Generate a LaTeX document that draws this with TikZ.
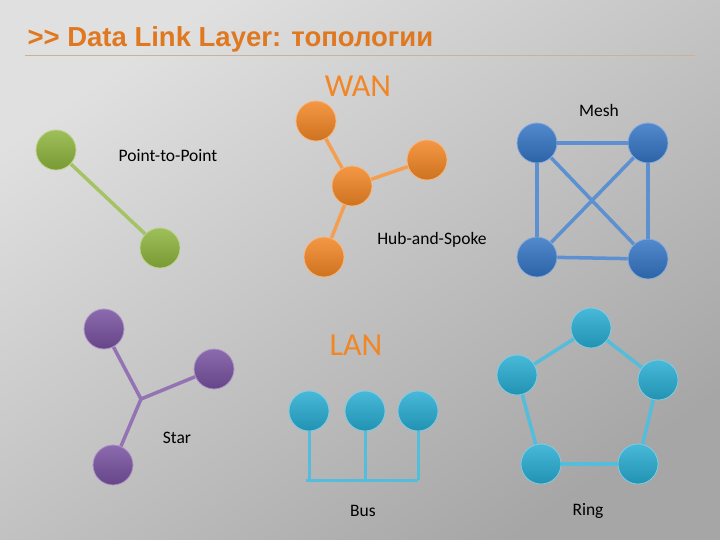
\documentclass[tikz,border=0pt]{standalone}
\usepackage{fontspec}
\setmainfont{Carlito}
\newfontfamily\titlefont{Liberation Sans}
\usepackage{tikz}
\definecolor{titlecolor}{RGB}{224,120,32}
\definecolor{bglight}{RGB}{224,224,224}
\definecolor{bgdark}{RGB}{166,166,166}
\definecolor{greencolor}{RGB}{141,180,60}
\definecolor{orangecolor}{RGB}{242,134,36}
\definecolor{bluecolor}{RGB}{52,116,196}
\definecolor{purplecolor}{RGB}{120,80,160}
\definecolor{cyancolor}{RGB}{40,172,210}

\tikzset{
    host/.style={circle, minimum size=40pt, inner sep=0pt,
        draw=#1!60!white, line width=0.8pt,
        top color=#1!85!white, bottom color=#1!85!black},
    link/.style={#1!80!white, line width=3.5pt},
    label/.style={font=\fontsize{17.5}{20}\selectfont, text=black},
    netlabel/.style={font=\fontsize{32}{36}\selectfont, text=orangecolor}
}

\begin{document}
\begin{tikzpicture}[x=1pt, y=-1pt]
            \shade[top color=bglight, bottom color=bgdark, shading angle=35] (0,0) rectangle (720,540);
            % title
            \node[anchor=west, text=titlecolor, font=\titlefont\bfseries\fontsize{27.5}{30}\selectfont] (title) at (24,39) {>> Data Link Layer: топологии};
            \draw[titlecolor!40!gray!60, line width=0.8pt] (25,55) -- (695,55);
            \node[netlabel] (wan) at (358,86) {WAN};
            \node[netlabel] (lan) at (356,345) {LAN};

            % point-to-point
            \node[host=greencolor] (p1) at (56,150) {};
            \node[host=greencolor] (p2) at (160,248) {};
            \draw[link=greencolor] (p1) -- (p2);
            \node[label] (ptp) at (168,156) {Point-to-Point};

            % hub-and-spoke
            \node[host=orangecolor] (hub) at (352,186) {};
            \node[host=orangecolor] (h1) at (316,121) {};
            \node[host=orangecolor] (h2) at (427,160) {};
            \node[host=orangecolor] (h3) at (324,257) {};
            \foreach \s in {h1,h2,h3}
                \draw[link=orangecolor] (hub) -- (\s);
            \node[label] (hs) at (432,240) {Hub-and-Spoke};

            % mesh
            \node[host=bluecolor] (m1) at (537,143) {};
            \node[host=bluecolor] (m2) at (648,143) {};
            \node[host=bluecolor] (m3) at (648,259) {};
            \node[host=bluecolor] (m4) at (537,257) {};
            \foreach \a/\b in {m1/m2,m2/m3,m3/m4,m4/m1,m1/m3,m2/m4}
                \draw[link=bluecolor] (\a) -- (\b);
            \node[label] (mesh) at (599,110) {Mesh};

            % star
            \coordinate (sc) at (141,399);
            \node[host=purplecolor] (s1) at (104,329) {};
            \node[host=purplecolor] (s2) at (214,369) {};
            \node[host=purplecolor] (s3) at (113,465) {};
            \foreach \s in {s1,s2,s3}
                \draw[link=purplecolor] (sc) -- (\s);
            \node[label] (star) at (177,438) {Star};

            % bus
            \coordinate (bl) at (306,480);
            \coordinate (br) at (418,480);
            \draw[link=cyancolor, line width=3pt] (bl) -- (br);
            \foreach \n/\x in {b1/309,b2/365,b3/418}
            {
                \node[host=cyancolor] (\n) at (\x,411) {};
                \draw[link=cyancolor, line width=3pt] (\n.south) -- (\n.south |- bl);
            }
            \node[label] (bus) at (363,511) {Bus};

            % ring
            \node[host=cyancolor] (r1) at (591,328) {};
            \node[host=cyancolor] (r2) at (658,380) {};
            \node[host=cyancolor] (r3) at (638,464) {};
            \node[host=cyancolor] (r4) at (541,464) {};
            \node[host=cyancolor] (r5) at (517,375) {};
            \foreach \a/\b in {r1/r2,r2/r3,r3/r4,r4/r5,r5/r1}
                \draw[link=cyancolor] (\a) -- (\b);
            \node[label] (ring) at (588,511) {Ring};
        \end{tikzpicture}
\end{document}
